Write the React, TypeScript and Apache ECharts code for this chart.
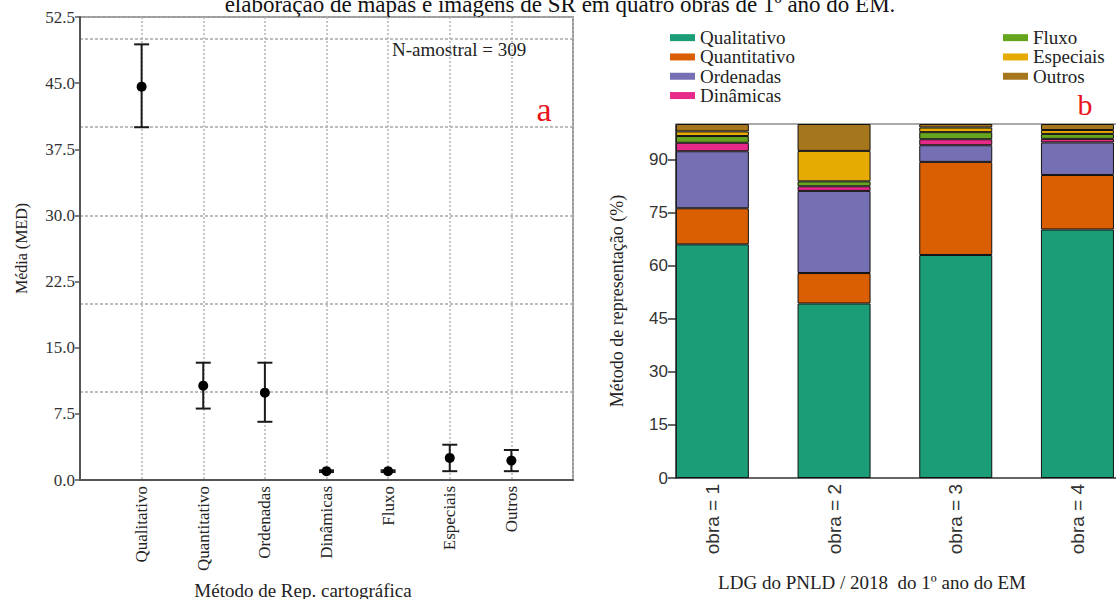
import React, { useEffect, useRef } from "react";
import * as echarts from "echarts";

// ---- Left chart (a): mean with error bars ----
const leftCats = ["Qualitativo", "Quantitativo", "Ordenadas", "Dinâmicas", "Fluxo", "Especiais", "Outros"];
const leftMeans = [44.6, 10.7, 9.9, 1.0, 1.0, 2.5, 2.2];
const leftLower = [40.0, 8.1, 6.6, 0.9, 0.9, 1.0, 1.0];
const leftUpper = [49.4, 13.3, 13.3, 1.1, 1.1, 4.0, 3.4];
const leftYMax = 52.5;
const leftYStep = 7.5;
const leftGridStep = 10;

// ---- Right chart (b): stacked percentages ----
const obras = ["obra = 1", "obra = 2", "obra = 3", "obra = 4"];
const qualitativo = [66.0, 49.3, 63.0, 70.2];
const quantitativo = [10.2, 8.6, 26.3, 15.4];
const ordenadas = [16.1, 23.2, 4.7, 9.2];
const dinamicas = [2.4, 1.3, 1.7, 1.0];
const fluxo = [1.9, 1.4, 2.0, 1.4];
const especiais = [1.3, 8.6, 1.3, 1.1];
const outros = [2.1, 7.6, 1.0, 1.7];
const rightYTicks = [0, 15, 30, 45, 60, 75, 90];

const stackSeries = [
  { name: "Qualitativo", values: qualitativo, color: "#1b9e77" },
  { name: "Quantitativo", values: quantitativo, color: "#d95f02" },
  { name: "Ordenadas", values: ordenadas, color: "#7570b3" },
  { name: "Dinâmicas", values: dinamicas, color: "#e7298a" },
  { name: "Fluxo", values: fluxo, color: "#66a61e" },
  { name: "Especiais", values: especiais, color: "#e6ab02" },
  { name: "Outros", values: outros, color: "#a6761d" },
];

const SERIF = "'Liberation Serif', 'Times New Roman', serif";
const SANS = "'Liberation Sans', Arial, sans-serif";

export default function App() {
  const ref = useRef<HTMLDivElement>(null);

  useEffect(() => {
    if (!ref.current) return;
    const chart = echarts.init(ref.current, undefined, { renderer: "svg" });

    const legendText = { fontFamily: SERIF, fontSize: 19, lineHeight: 19.3, color: "#222" };

    const option: any = {
      animation: false,
      backgroundColor: "#ffffff",
      grid: [
        { left: 80, top: 17, width: 493, height: 463, show: true, borderColor: "#999", borderWidth: 2, backgroundColor: "transparent", outerBoundsMode: "none" },
        // bars grid: category bands of 121.7px, partly beyond the right edge
        { left: 651.5, top: 124, width: 486.8, height: 354, outerBoundsMode: "none" },
        // frame grid for the visible right axes
        { left: 676, top: 124, width: 440, height: 354, outerBoundsMode: "none" },
      ],
      legend: [
        {
          data: ["Qualitativo", "Quantitativo", "Ordenadas", "Dinâmicas"],
          orient: "vertical", left: 665, top: 23, itemGap: 0, itemWidth: 25, itemHeight: 7, icon: "rect",
          selectedMode: false, itemStyle: { borderWidth: 0 }, textStyle: legendText,
        },
        {
          data: ["Fluxo", "Especiais", "Outros"],
          orient: "vertical", left: 998, top: 23, itemGap: 0, itemWidth: 25, itemHeight: 7, icon: "rect",
          selectedMode: false, itemStyle: { borderWidth: 0 }, textStyle: legendText,
        },
      ],
      xAxis: [
        {
          type: "value", gridIndex: 0, min: 0, max: leftCats.length + 1, interval: 1,
          axisLine: { show: true, lineStyle: { color: "#555", width: 2 } },
          axisTick: { show: false },
          axisLabel: {
            rotate: 90, margin: 6, fontFamily: SERIF, fontSize: 17, color: "#222",
            formatter: (v: number) => leftCats[v - 1] ?? "",
          },
          splitLine: { show: true, lineStyle: { color: "#b5b5b5", type: [2, 2], width: 1.5 } },
        },
        {
          type: "category", gridIndex: 1, data: obras, boundaryGap: true,
          axisLine: { show: false }, axisTick: { show: false },
          axisLabel: { rotate: 90, margin: 6, fontFamily: SANS, fontSize: 19, color: "#333" },
          splitLine: { show: false },
        },
        {
          type: "value", gridIndex: 2, min: 0, max: 1,
          axisLine: { show: true, onZero: false, lineStyle: { color: "#333", width: 1.5 } },
          axisTick: { show: false }, axisLabel: { show: false }, splitLine: { show: false },
        },
        {
          type: "value", gridIndex: 2, position: "top", min: 0, max: 1,
          axisLine: { show: true, onZero: false, lineStyle: { color: "#aaa", width: 2 } },
          axisTick: { show: false }, axisLabel: { show: false }, splitLine: { show: false },
        },
      ],
      yAxis: [
        {
          type: "value", gridIndex: 0, min: 0, max: leftYMax, interval: leftYStep,
          axisLine: { show: true, lineStyle: { color: "#555", width: 2 } },
          axisTick: { show: true, length: 5, lineStyle: { color: "#555", width: 1.5 } },
          axisLabel: { margin: 5, fontFamily: SERIF, fontSize: 17, color: "#333", formatter: (v: number) => v.toFixed(1) },
          splitLine: { show: false },
          name: "Média (MED)", nameLocation: "middle", nameGap: 51,
          nameTextStyle: { fontFamily: SERIF, fontSize: 16, color: "#222" },
        },
        {
          type: "value", gridIndex: 0, position: "right", min: 0, max: leftYMax, interval: leftGridStep,
          axisLine: { show: false }, axisTick: { show: false }, axisLabel: { show: false },
          splitLine: { show: true, lineStyle: { color: "#a8a8a8", type: [3, 2], width: 1.5 } },
        },
        {
          type: "value", gridIndex: 1, min: 0, max: 100,
          axisLine: { show: false }, axisTick: { show: false }, axisLabel: { show: false }, splitLine: { show: false },
        },
        {
          type: "value", gridIndex: 2, min: 0, max: 100,
          axisLine: { show: true, lineStyle: { color: "#333", width: 1.5 } },
          axisTick: { show: true, customValues: rightYTicks, length: 8, lineStyle: { color: "#333", width: 1.5 } },
          axisLabel: { customValues: rightYTicks, margin: 8, fontFamily: SANS, fontSize: 17, color: "#333" },
          splitLine: { show: false },
          name: "Método de representação (%)", nameLocation: "middle", nameGap: 50,
          nameTextStyle: { fontFamily: SERIF, fontSize: 18, color: "#222" },
        },
      ],
      series: [
        {
          name: "Média",
          type: "custom",
          xAxisIndex: 0,
          yAxisIndex: 0,
          data: leftCats.map((_, i) => [i + 1, leftMeans[i], leftLower[i], leftUpper[i]]),
          encode: { x: 0, y: [1, 2, 3] },
          renderItem: (_params: any, api: any) => {
            const x = api.value(0);
            const pM = api.coord([x, api.value(1)]);
            const pLo = api.coord([x, api.value(2)]);
            const pHi = api.coord([x, api.value(3)]);
            const cap = 7.5;
            const style = { stroke: "#1a1a1a", lineWidth: 2 };
            return {
              type: "group",
              children: [
                { type: "line", shape: { x1: pHi[0], y1: pHi[1], x2: pLo[0], y2: pLo[1] }, style },
                { type: "line", shape: { x1: pHi[0] - cap, y1: pHi[1], x2: pHi[0] + cap, y2: pHi[1] }, style },
                { type: "line", shape: { x1: pLo[0] - cap, y1: pLo[1], x2: pLo[0] + cap, y2: pLo[1] }, style },
                { type: "circle", shape: { cx: pM[0], cy: pM[1], r: 5 }, style: { fill: "#000" } },
              ],
            };
          },
        },
        ...stackSeries.map((s) => ({
          name: s.name,
          type: "bar",
          stack: "total",
          xAxisIndex: 1,
          yAxisIndex: 2,
          barWidth: 73,
          data: s.values,
          itemStyle: { color: s.color, borderColor: "#111", borderWidth: 1 },
        })),
      ],
      graphic: [
        {
          type: "text", x: 560, y: 4,
          style: { text: "elaboração de mapas e imagens de SR em quatro obras de 1º ano do EM.", fontFamily: SERIF, fontSize: 23, fill: "#111", align: "center", verticalAlign: "middle" },
        },
        {
          type: "text", x: 392, y: 49,
          style: { text: "N-amostral = 309", fontFamily: SERIF, fontSize: 19, fill: "#222", align: "left", verticalAlign: "middle" },
        },
        {
          type: "text", x: 544, y: 109,
          style: { text: "a", fontFamily: SERIF, fontSize: 34, fill: "#e8141c", align: "center", verticalAlign: "middle" },
        },
        {
          type: "text", x: 1085, y: 104,
          style: { text: "b", fontFamily: SERIF, fontSize: 30, fill: "#e8141c", align: "center", verticalAlign: "middle" },
        },
        {
          type: "text", x: 303, y: 590,
          style: { text: "Método de Rep. cartográfica", fontFamily: SERIF, fontSize: 19, fill: "#222", align: "center", verticalAlign: "middle" },
        },
        {
          type: "text", x: 872, y: 582,
          style: { text: "LDG do PNLD / 2018  do 1º ano do EM", fontFamily: SERIF, fontSize: 19, fill: "#222", align: "center", verticalAlign: "middle" },
        },
      ],
    };

    chart.setOption(option);
    return () => chart.dispose();
  }, []);

  return (
    <div
      ref={ref}
      style={{ position: "fixed", left: 0, top: 0, width: 1116, height: 599, background: "#fff" }}
    />
  );
}
